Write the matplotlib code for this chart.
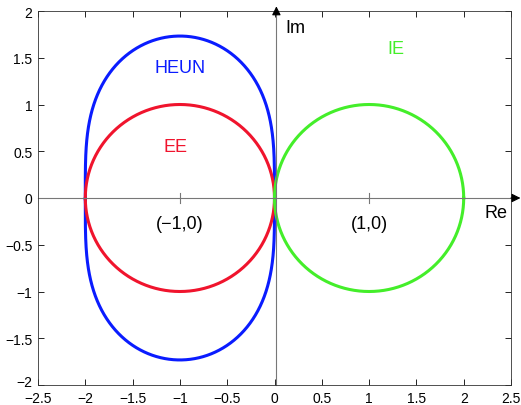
import numpy as np
import matplotlib.pyplot as plt
import matplotlib.transforms as mtransforms

plt.rcParams['font.family'] = ['Liberation Sans', 'DejaVu Sans']

# stability regions: centers / radii of the circles
ee_center, ee_radius = (-1.0, 0.0), 1.0
ie_center, ie_radius = (1.0, 0.0), 1.0
# Heun: |1 + z + z^2/2| = 1

xticks = [-2.5, -2, -1.5, -1, -0.5, 0, 0.5, 1, 1.5, 2, 2.5]
yticks = [-2, -1.5, -1, -0.5, 0, 0.5, 1, 1.5, 2]

blue = '#0a1cff'
red = '#f0142d'
green = '#44ee2a'

theta = np.linspace(0, 2 * np.pi, 721)

fig = plt.figure(figsize=(5.21, 4.06), dpi=100)
ax = fig.add_axes([38 / 521, 20 / 406, 473 / 521, 374 / 406])

# Heun boundary from roots of 1 + z + z^2/2 = e^{i theta}
w = np.exp(1j * theta)
r = np.sqrt(2 * w - 1)
zz = np.concatenate([-1 + r, -1 - r])
order = np.argsort(np.angle(zz + 1))
zz = zz[order]
zz = np.append(zz, zz[0])
ax.plot(zz.real, zz.imag, color=blue, lw=2.2)

ax.plot(ee_center[0] + ee_radius * np.cos(theta), ee_center[1] + ee_radius * np.sin(theta), color=red, lw=2.2)
ax.plot(ie_center[0] + ie_radius * np.cos(theta), ie_center[1] + ie_radius * np.sin(theta), color=green, lw=2.2)

# coordinate axes (grey lines, black arrow heads)
ax.plot([-2.5, 2.56], [0, 0], color='#777777', lw=0.8, clip_on=False)
ax.plot([0.02, 0.02], [-2, 2.0], color='#777777', lw=0.8, clip_on=False)
ax.annotate('', xy=(2.6, 0), xytext=(2.5, 0), annotation_clip=False,
            arrowprops=dict(arrowstyle='-|>', color='k', lw=0.8, mutation_scale=13, shrinkA=0, shrinkB=0))
ax.annotate('', xy=(0.02, 2.05), xytext=(0.02, 1.97), annotation_clip=False,
            arrowprops=dict(arrowstyle='-|>', color='k', lw=0.8, mutation_scale=13, shrinkA=0, shrinkB=0))
ax.plot([-1, -1], [-0.05, 0.05], color='#777777', lw=0.8)
ax.plot([1, 1], [-0.05, 0.05], color='#777777', lw=0.8)

ax.text(0.12, 1.82, 'Im', fontsize=13, va='center', ha='left')
ax.text(2.22, -0.15, 'Re', fontsize=13, va='center', ha='left')
ax.text(1.28, 1.6, 'IE', fontsize=13, va='center', ha='center', color=green)
ax.text(-1.0, 1.4, 'HEUN', fontsize=13, va='center', ha='center', color=blue)
ax.text(-1.05, 0.55, 'EE', fontsize=13, va='center', ha='center', color=red)
ax.text(-1.0, -0.27, '(\u22121,0)', fontsize=13, va='center', ha='center')
ax.text(1.0, -0.27, '(1,0)', fontsize=13, va='center', ha='center')

ax.set_xlim(-2.5, 2.5)
ax.set_ylim(-2, 2)
ax.set_xticks(xticks)
ax.set_yticks(yticks)
ax.set_xticklabels([f'{t:g}'.replace('-', '\u2212') for t in xticks])
ax.set_yticklabels([f'{t:g}'.replace('-', '\u2212') for t in yticks])
ax.tick_params(direction='in', top=True, right=True, labelsize=10, length=4, width=0.6)
ax.tick_params(axis='x', pad=4)
ax.tick_params(axis='y', pad=4)
for s in ax.spines.values():
    s.set_linewidth(0.6)
    s.set_color('#333333')

# lift the lowest y label a little so it clears the -2.5 x label
lowest = ax.get_yticklabels()[0]
lowest.set_transform(lowest.get_transform() + mtransforms.ScaledTranslation(0, 3 / 72, fig.dpi_scale_trans))

fig.savefig('out.png', dpi=100)
